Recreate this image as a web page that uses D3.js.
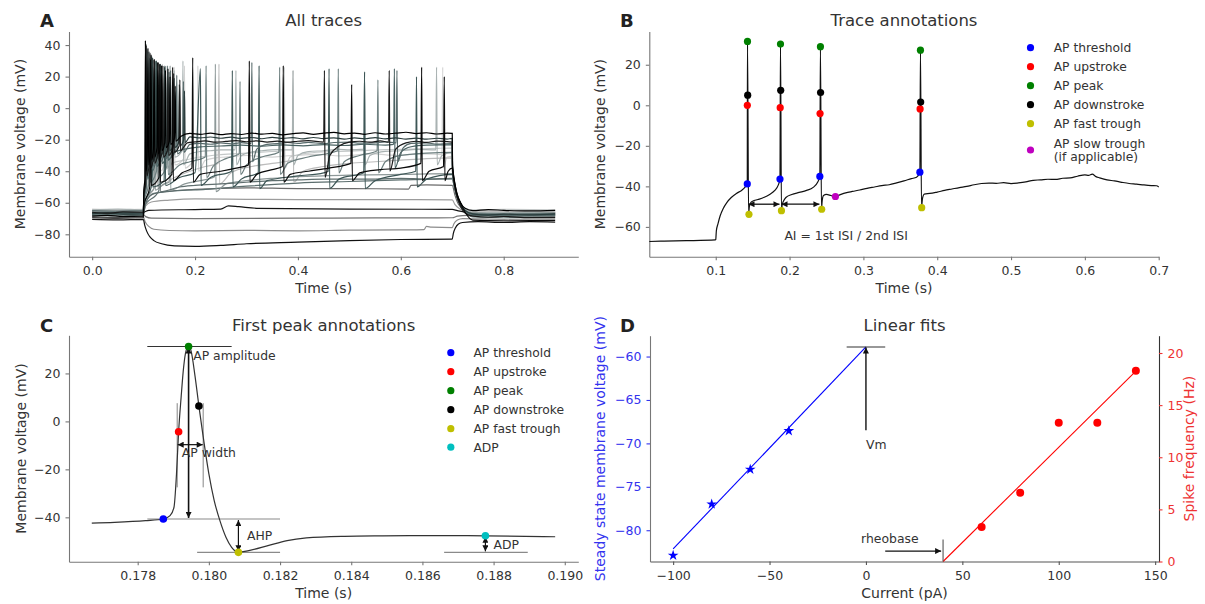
<!DOCTYPE html>
<html><head><meta charset="utf-8">
<script src="https://cdn.jsdelivr.net/npm/d3@7"></script>
<style>body{margin:0;background:#fff} svg text{font-family:"DejaVu Sans",sans-serif}</style>
</head><body>
<svg id="c" width="1205" height="604"></svg>
<script>
// ---------------- DATA ----------------
// Panel A: axis limits & ticks
const aXLim = [-0.045, 0.945], aYLim = [-94.2, 48.6];
const aXTicks = [0.0, 0.2, 0.4, 0.6, 0.8], aYTicks = [-80, -60, -40, -20, 0, 20, 40];
// Panel A subthreshold traces [t (s), V (mV)]
const aSub1 = [[0,-70.5],[0.05,-70.8],[0.0995,-70.5],[0.102,-74],[0.106,-78],[0.112,-81.5],[0.12,-84],[0.135,-86],[0.16,-87.3],[0.2,-87.6],[0.25,-87],[0.3,-86],[0.4,-85],[0.5,-84],[0.6,-83.3],[0.7,-83],[0.702,-79.5],[0.706,-76],[0.712,-73.5],[0.72,-72.5],[0.75,-72],[0.8,-72.5],[0.85,-72],[0.9,-72.3]];
const aSub2 = [[0,-69],[0.05,-69.4],[0.0995,-69],[0.103,-72],[0.11,-75],[0.12,-76.8],[0.15,-77.6],[0.2,-77.8],[0.3,-77.5],[0.4,-77.8],[0.5,-77.4],[0.6,-77.2],[0.645,-77],[0.65,-75],[0.66,-75.5],[0.7,-75.8],[0.703,-73.5],[0.71,-71],[0.72,-70],[0.8,-70.5],[0.9,-70.2]];
const aSub3 = [[0,-67.5],[0.05,-67.2],[0.0995,-67.5],[0.104,-68.8],[0.115,-69.8],[0.2,-70],[0.4,-69.8],[0.55,-69.6],[0.7,-69.5],[0.71,-68.5],[0.73,-68],[0.9,-68.4]];
const aSub4 = [[0,-66],[0.05,-66.3],[0.0995,-66],[0.11,-64.8],[0.2,-64.3],[0.25,-64],[0.265,-62],[0.285,-62.5],[0.32,-63.5],[0.5,-64],[0.7,-64.2],[0.71,-65],[0.73,-66],[0.9,-66.2]];
const aSub5 = [[0,-65],[0.05,-65.2],[0.0995,-65],[0.104,-62],[0.115,-59.5],[0.15,-58.3],[0.2,-57.5],[0.3,-57.8],[0.4,-58],[0.55,-58],[0.7,-58.2],[0.705,-61],[0.715,-64],[0.73,-65.5],[0.9,-65.8]];
const aSub6 = [[0,-67],[0.05,-66.8],[0.0995,-67],[0.104,-60],[0.115,-55],[0.14,-53],[0.2,-51.5],[0.3,-50.5],[0.4,-51],[0.5,-51],[0.615,-51.3],[0.62,-49],[0.65,-48.7],[0.7,-49],[0.705,-55],[0.712,-61],[0.725,-65],[0.74,-66.5],[0.9,-66.8]];
const aSub7 = [[0,-68],[0.05,-68.3],[0.0995,-68],[0.104,-60],[0.12,-54],[0.16,-52.5],[0.22,-51.5],[0.3,-49.5],[0.4,-47.5],[0.5,-46.5],[0.6,-45.5],[0.7,-44.8],[0.705,-52],[0.712,-59],[0.725,-64],[0.74,-67],[0.9,-67.5]];
// Panel A spiking traces: [t, V] or spike [t, peak, trough]
const aSpk1 = [[0,-68.5],[0.03,-68.0],[0.06,-68.7],[0.0995,-68.5],[0.1005,-52],[0.1025,-45],[0.1035,43,-40],[0.107,-32],[0.1085,38,-36],[0.113,-28],[0.1145,34,-33],[0.119,-26],[0.1205,31,-31],[0.126,-25],[0.1275,29,-29],[0.133,-24],[0.1345,27,-27],[0.141,-22],[0.1425,24,-25],[0.15,-21],[0.1515,20,-23],[0.16,-19],[0.1615,14,-21],[0.172,-18],[0.19,-16],[0.21,-16.6],[0.23,-15.9],[0.25,-16.8],[0.27,-16.1],[0.29,-16.7],[0.31,-15.8],[0.33,-16.5],[0.35,-16],[0.37,-16.9],[0.39,-16.2],[0.41,-15.7],[0.43,-16.6],[0.45,-15.9],[0.47,-15.4],[0.49,-16.3],[0.51,-15.8],[0.53,-16.6],[0.55,-15.6],[0.57,-16.4],[0.59,-15.9],[0.61,-15.3],[0.63,-16.1],[0.65,-15.6],[0.67,-16.4],[0.69,-15.8],[0.7,-16],[0.7005,-36],[0.704,-46],[0.709,-54],[0.716,-60],[0.725,-63.5],[0.74,-65],[0.77,-64.3],[0.8,-64.8],[0.85,-65.2],[0.9,-64.8]];
const aSpk2 = [[0,-67],[0.03,-66.4],[0.06,-67.2],[0.0995,-67],[0.1005,-54],[0.103,-47],[0.1042,41,-42],[0.109,-33],[0.1105,36,-37],[0.116,-30],[0.1175,32,-34],[0.123,-28],[0.1245,30,-32],[0.131,-27],[0.1325,28,-30],[0.139,-26],[0.1405,26,-29],[0.148,-25],[0.1495,23,-27],[0.158,-23],[0.1595,19,-25],[0.168,-22],[0.1695,15,-24],[0.178,-20],[0.1795,11,-22],[0.19,-18.2],[0.21,-18.9],[0.23,-18.3],[0.25,-19.1],[0.27,-18.4],[0.29,-19.2],[0.31,-18.6],[0.33,-19.4],[0.35,-18.5],[0.37,-19.2],[0.39,-18.7],[0.41,-19.5],[0.43,-18.6],[0.45,-19.3],[0.47,-18.8],[0.49,-19.6],[0.51,-18.9],[0.53,-19.4],[0.55,-18.7],[0.57,-19.5],[0.59,-18.9],[0.61,-19.6],[0.63,-19],[0.65,-19.7],[0.67,-19.1],[0.69,-19.6],[0.7,-19.2],[0.7005,-37],[0.704,-47],[0.709,-55],[0.716,-61],[0.725,-65],[0.74,-67],[0.77,-67.8],[0.8,-67.2],[0.85,-67.7],[0.9,-67]];
const aSpk3 = [[0,-66],[0.03,-66.6],[0.06,-65.8],[0.0995,-66],[0.1005,-55],[0.104,-48],[0.1052,40,-43],[0.111,-35],[0.1125,35,-38],[0.119,-32],[0.1205,31,-35],[0.127,-30],[0.1285,29,-33],[0.136,-28],[0.1375,27,-31],[0.146,-27],[0.1475,25,-30],[0.157,-25],[0.1585,22,-28],[0.169,-24],[0.1705,18,-27],[0.185,-22],[0.2,-21.4],[0.22,-20.8],[0.24,-21.6],[0.26,-21.1],[0.28,-20.6],[0.3,-21.3],[0.32,-20.7],[0.34,-21.5],[0.36,-20.9],[0.38,-21.6],[0.4,-21],[0.42,-20.6],[0.45,-21.5],[0.4515,24,-44],[0.462,-30],[0.48,-24],[0.5,-21.5],[0.52,-21],[0.54,-21.6],[0.56,-20.8],[0.576,-21.5],[0.5775,24,-40],[0.59,-26],[0.61,-22],[0.63,-21],[0.65,-21.7],[0.67,-20.9],[0.7,-21.5],[0.7005,-38],[0.704,-48],[0.709,-56],[0.716,-62],[0.725,-66.5],[0.74,-68.5],[0.77,-69.2],[0.8,-68.7],[0.85,-69.4],[0.9,-69.3]];
const aSpk4 = [[0,-65],[0.05,-65.3],[0.0995,-65],[0.1005,-57],[0.105,-49],[0.1062,38,-44],[0.113,-36],[0.1145,33,-39],[0.121,-33],[0.1225,30,-36],[0.13,-31],[0.1315,28,-34],[0.14,-29],[0.1415,26,-32],[0.151,-28],[0.1525,24,-31],[0.163,-26],[0.1645,21,-29],[0.176,-25],[0.1775,17,-28],[0.19,-23],[0.21,-22.3],[0.23,-22.9],[0.25,-22.1],[0.27,-22.7],[0.29,-21.9],[0.309,-22.5],[0.3105,29,-34],[0.32,-26],[0.34,-23],[0.36,-22.5],[0.38,-21.8],[0.4,-22.4],[0.42,-21.7],[0.45,-22.5],[0.47,-21.8],[0.5,-21.5],[0.52,-22.2],[0.55,-22],[0.57,-21.4],[0.591,-22],[0.5925,24,-34],[0.605,-25],[0.62,-22.4],[0.65,-22],[0.67,-22.8],[0.7,-22.5],[0.7005,-38],[0.704,-48],[0.709,-56],[0.716,-61.5],[0.725,-65.5],[0.74,-68],[0.8,-68.3],[0.9,-68]];
const aSpk5 = [[0,-64.5],[0.05,-64],[0.0995,-64.5],[0.1005,-58],[0.106,-50],[0.1075,36,-45],[0.115,-37],[0.1165,32,-40],[0.124,-34],[0.1255,29,-37],[0.134,-32],[0.1355,27,-35],[0.145,-30],[0.1465,25,-33],[0.158,-28],[0.1595,24,-31],[0.175,-27],[0.1765,30,-36],[0.19,-29],[0.21,-27.5],[0.23,-27],[0.25,-26.4],[0.278,-26.5],[0.2795,24,-36],[0.29,-30],[0.31,-27.8],[0.33,-27],[0.36,-26.3],[0.389,-26.5],[0.3905,24,-36],[0.4,-30],[0.42,-27.6],[0.45,-27],[0.48,-26.2],[0.5,-26.5],[0.528,-26],[0.5295,23,-36],[0.54,-30],[0.57,-27.4],[0.6,-27],[0.63,-26.2],[0.668,-26.5],[0.6695,26,-36],[0.68,-30],[0.7,-28],[0.7005,-40],[0.704,-49],[0.709,-56],[0.716,-61],[0.725,-64.5],[0.74,-66],[0.8,-66.3],[0.9,-66]];
const aSpk6 = [[0,-64],[0.05,-64.4],[0.0995,-64],[0.1005,-59],[0.108,-50],[0.1095,33,-46],[0.118,-39],[0.1195,30,-42],[0.129,-37],[0.1305,28,-40],[0.142,-35],[0.1435,27,-38],[0.158,-33],[0.1595,26,-36],[0.178,-32],[0.1795,27,-38],[0.2,-33],[0.205,-32],[0.2055,27,-40],[0.22,-33],[0.24,-31.5],[0.26,-31],[0.28,-30.4],[0.3,-30],[0.33,-30.8],[0.35,-31],[0.38,-30.2],[0.4,-30],[0.43,-29.3],[0.45,-29.5],[0.48,-30.3],[0.5,-30],[0.53,-29.2],[0.55,-29],[0.58,-29.8],[0.6,-30],[0.63,-29.1],[0.65,-29],[0.68,-29.5],[0.6815,26,-38],[0.69,-31],[0.7,-30.5],[0.7005,-41],[0.704,-49],[0.709,-56],[0.716,-61],[0.725,-64],[0.74,-65.5],[0.8,-65],[0.9,-65.3]];
const aSpk7 = [[0,-67.5],[0.05,-67.2],[0.0995,-67.5],[0.1005,-60],[0.11,-48],[0.1115,32,-47],[0.125,-40],[0.1265,29,-44],[0.145,-37],[0.1465,27,-42],[0.17,-36],[0.19,-34],[0.22,-31],[0.2215,27,-44],[0.235,-37],[0.26,-32],[0.286,-29],[0.2875,17,-42],[0.3,-36],[0.33,-31],[0.363,-28],[0.3645,26,-42],[0.38,-35],[0.42,-31],[0.477,-27],[0.4785,25,-41],[0.49,-34],[0.52,-30],[0.554,-27],[0.5555,18,-41],[0.57,-34],[0.6,-30],[0.65,-28.5],[0.7,-28],[0.7005,-40],[0.704,-49],[0.709,-56],[0.716,-61.5],[0.725,-66],[0.74,-69],[0.8,-69.5],[0.9,-69.2]];
const aSpk8 = [[0,-69.5],[0.05,-69.8],[0.0995,-69.5],[0.1005,-62],[0.112,-50],[0.1135,31,-49],[0.13,-44],[0.1315,28,-47],[0.155,-42],[0.1565,26,-46],[0.175,-41],[0.194,-38],[0.1955,32,-47],[0.21,-42],[0.25,-40],[0.28,-38],[0.304,-36],[0.3055,30,-47],[0.32,-42],[0.35,-39],[0.37,-37],[0.3715,27,-47],[0.385,-42],[0.42,-40],[0.46,-38],[0.503,-35],[0.5045,15,-46],[0.52,-41],[0.56,-39],[0.6,-38],[0.639,-35],[0.6405,26,-46],[0.655,-40],[0.683,-37],[0.6845,20,-46],[0.692,-40],[0.7,-38],[0.704,-46],[0.709,-54],[0.716,-60],[0.725,-66],[0.74,-71],[0.8,-71.5],[0.9,-71.2]];
const aSpk9 = [[0,-66.5],[0.05,-66.2],[0.0995,-66.5],[0.1005,-61],[0.115,-50],[0.1165,30,-50],[0.14,-46],[0.1415,27,-49],[0.17,-44],[0.2,-41],[0.2105,25,-49],[0.23,-44],[0.271,-40],[0.2725,24,-50],[0.29,-45],[0.323,-41],[0.3245,27,-51],[0.34,-46],[0.4,-43],[0.45,-41],[0.459,-40],[0.4605,25,-51],[0.48,-45],[0.528,-41],[0.5295,23,-51],[0.55,-46],[0.6,-42],[0.629,-40],[0.6305,20,-50],[0.65,-45],[0.7,-42],[0.704,-49],[0.709,-55],[0.716,-60],[0.725,-65],[0.74,-67.5],[0.8,-67.8],[0.9,-67.5]];
const aSpk10 = [[0,-65.5],[0.05,-65.8],[0.0995,-65.5],[0.1005,-62],[0.112,-54],[0.12,-51],[0.1215,29,-52],[0.14,-48],[0.15,-47],[0.1515,27,-52],[0.18,-48],[0.21,-46],[0.238,-43.5],[0.2395,28,-53],[0.26,-48],[0.3,-46],[0.35,-44.5],[0.4,-43.5],[0.5,-42.5],[0.6,-42],[0.7,-41.5],[0.704,-48],[0.709,-55],[0.716,-60],[0.725,-64.5],[0.74,-66.5],[0.8,-66.8],[0.9,-66.5]];
const aSpk11 = [[0,-64.8],[0.05,-65],[0.0995,-64.8],[0.1005,-61],[0.124,-48],[0.1255,28,-50],[0.16,-44],[0.19,-40],[0.22,-37],[0.245,-35],[0.2465,28,-48],[0.27,-41],[0.31,-37],[0.35,-35],[0.389,-33],[0.3905,24,-47],[0.41,-40],[0.45,-37],[0.5,-35],[0.55,-34],[0.6,-33],[0.65,-32],[0.7,-31.5],[0.7005,-42],[0.704,-50],[0.709,-56],[0.716,-61],[0.725,-64],[0.74,-65],[0.8,-65.5],[0.9,-65.2]];
const aSpk12 = [[0,-66],[0.05,-66.2],[0.0995,-66],[0.1005,-63],[0.13,-52],[0.1315,26,-53],[0.17,-50],[0.2,-49],[0.25,-48],[0.3,-47],[0.35,-46],[0.4,-45.5],[0.45,-45],[0.5,-45],[0.55,-45],[0.6,-44.5],[0.65,-45],[0.7,-44.5],[0.704,-50],[0.709,-56],[0.716,-61],[0.725,-65.5],[0.74,-68],[0.8,-68.5],[0.9,-68.3]];
const aSpk13 = [[0,-66.8],[0.05,-67],[0.0995,-66.8],[0.1005,-57],[0.105,-50],[0.1065,37,-45],[0.114,-37],[0.1155,33,-40],[0.123,-34],[0.1245,30,-37],[0.133,-32],[0.1345,27,-35],[0.145,-30],[0.1465,25,-33],[0.16,-28],[0.18,-26],[0.21,-24.5],[0.25,-24],[0.29,-23.4],[0.33,-24.1],[0.37,-23.3],[0.41,-23.9],[0.45,-23.1],[0.49,-23.7],[0.53,-22.9],[0.57,-23.5],[0.586,-23],[0.5875,25,-38],[0.6,-28],[0.62,-24.5],[0.65,-23.5],[0.7,-23.2],[0.7005,-38],[0.704,-48],[0.709,-56],[0.716,-61.5],[0.725,-65],[0.74,-67],[0.8,-67.2],[0.9,-67]];
const aSpk14 = [[0,-65.2],[0.05,-65],[0.0995,-65.2],[0.1005,-59],[0.109,-49],[0.1105,34,-46],[0.12,-39],[0.1215,30,-42],[0.135,-36],[0.1365,28,-40],[0.155,-35],[0.18,-33],[0.21,-31],[0.25,-29.5],[0.3,-28.5],[0.35,-27.5],[0.372,-27],[0.3735,26,-38],[0.385,-31],[0.42,-28.5],[0.47,-27.5],[0.52,-27],[0.57,-26.3],[0.62,-26],[0.67,-25.5],[0.7,-25.3],[0.7005,-40],[0.704,-49],[0.709,-56],[0.716,-61],[0.725,-63.5],[0.74,-64.5],[0.8,-64.2],[0.9,-64.5]];

// Panel B
const bXLim = [0.01, 0.7], bYLim = [-74.7, 36.4];
const bXTicks = [0.1, 0.2, 0.3, 0.4, 0.5, 0.6, 0.7], bYTicks = [-60, -40, -20, 0, 20];
const bTrace = [[0.010,-67.2],[0.03,-67.0],[0.06,-66.8],[0.0995,-66.4],[0.1,-66.3],[0.1008,-62.0],[0.103,-58.5],[0.106,-54.5],[0.110,-51],[0.115,-48],[0.121,-45.5],[0.128,-43.5],[0.135,-42],[0.140,-40.3],[0.1427,-38.8],[0.1430,31.5],[0.1445,-53.8],[0.1455,-50],[0.1468,-48.5],[0.150,-47.3],[0.157,-46.5],[0.165,-45.5],[0.173,-44],[0.180,-42],[0.1845,-39.5],[0.1870,-36.4],[0.1877,30.2],[0.1890,-52],[0.1900,-49],[0.1915,-47.5],[0.195,-45.5],[0.203,-44],[0.213,-43],[0.223,-42],[0.232,-40.5],[0.238,-38],[0.2410,-35.1],[0.2418,28.9],[0.2432,-51.3],[0.2442,-47],[0.2460,-44.5],[0.250,-44],[0.256,-44.5],[0.2621,-45],[0.268,-44.2],[0.276,-43.2],[0.285,-42.5],[0.295,-41.8],[0.305,-41],[0.315,-40.3],[0.325,-39.6],[0.335,-39.2],[0.345,-38.3],[0.355,-37.3],[0.365,-36.2],[0.372,-35.5],[0.3765,-33],[0.3773,27.2],[0.3787,-50.5],[0.3800,-46],[0.3825,-43.8],[0.390,-43.5],[0.400,-42.8],[0.410,-42],[0.420,-41.3],[0.430,-40.6],[0.440,-40],[0.450,-39.2],[0.460,-38.6],[0.470,-38.4],[0.480,-38.5],[0.490,-38.2],[0.500,-38.6],[0.510,-38.3],[0.520,-37.8],[0.530,-37.0],[0.540,-36.8],[0.550,-36.5],[0.560,-36.6],[0.570,-36.0],[0.580,-35.8],[0.590,-35.0],[0.600,-34.3],[0.605,-34.6],[0.610,-34.0],[0.615,-35.2],[0.620,-35.8],[0.630,-36.8],[0.640,-37.3],[0.650,-38.0],[0.660,-38.6],[0.670,-38.9],[0.680,-39.3],[0.690,-39.6],[0.697,-39.7],[0.700,-40.3]];
const bThreshold = [[0.1427,-38.8],[0.1870,-36.4],[0.2410,-35.1],[0.3765,-33]];
const bUpstroke = [[0.1428,0.0],[0.1873,-1.2],[0.2413,-4.1],[0.3768,-1.8]];
const bPeak = [[0.1430,31.5],[0.1877,30.2],[0.2418,28.9],[0.3773,27.2]];
const bDownstroke = [[0.1433,5.0],[0.1880,7.4],[0.2420,6.3],[0.3776,1.6]];
const bFastTrough = [[0.1450,-53.8],[0.1890,-52],[0.2435,-51.3],[0.3790,-50.5]];
const bSlowTrough = [[0.2621,-45]];
const bIsi = [[0.1430,0.1877],[0.1877,0.2418]], bIsiLevel = -48.8;
const bLegendLabels = ["AP threshold","AP upstroke","AP peak","AP downstroke","AP fast trough","AP slow trough|(if applicable)"];

// Panel C
const cXLim = [0.17607, 0.19038], cYLim = [-58.5, 35.9];
const cXTicks = [0.178, 0.180, 0.182, 0.184, 0.186, 0.188, 0.190], cYTicks = [-40, -20, 0, 20];
const cTrace = [[0.17671,-42.4],[0.17735,-42.1],[0.17822,-41.4],[0.17872,-40.7],[0.17891,-39.3],[0.17902,-35.8],[0.17909,-22],[0.17915,-4.3],[0.17922,10],[0.17929,22.5],[0.17936,29.5],[0.17943,31.25],[0.1795,29.4],[0.17961,19],[0.17972,6.4],[0.17983,-5.3],[0.1800,-21.9],[0.18015,-33],[0.18031,-41.4],[0.18048,-48.3],[0.18064,-52.5],[0.18083,-54.6],[0.18112,-53.9],[0.18166,-51.8],[0.1822,-49.7],[0.18274,-48.6],[0.18381,-47.9],[0.18489,-47.7],[0.18597,-47.6],[0.18777,-47.7],[0.18973,-48.1]];
const cPoints = [[0.17872,-40.7],[0.17915,-4.3],[0.17943,31.25],[0.17972,6.4],[0.18083,-54.6],[0.18777,-47.7]];
const cLegendLabels = ["AP threshold","AP upstroke","AP peak","AP downstroke","AP fast trough","ADP"];
const cPeakLine = [0.17827, 0.18064, 31.25];
const cThreshLine = [0.17827, 0.1820, -40.7];
const cTroughLine = [0.17967, 0.1820, -54.6];
const cAdpLine = [0.18661, 0.18896, -54.6];
const cWidth = [0.17911, 0.17984, -9.7, 7.6, -27.5];

// Panel D
const dXLim = [-112, 152], dYLimL = [-83.6, -57.6], dYLimR = [0, 21.66];
const dXTicks = [-100, -50, 0, 50, 100, 150], dYTicksL = [-80, -75, -70, -65, -60], dYTicksR = [0, 5, 10, 15, 20];
const dStarCurrent = [-100, -80, -60, -40], dStarVoltage = [-82.9, -77.0, -73.0, -68.55];
const dVFit = [[-100, -82.15], [0, -58.9]];
const dDotCurrent = [60, 80, 100, 120, 140], dDotFreq = [3.3, 6.6, 13.3, 13.3, 18.3];
const dFFit = [[40, 0], [140, 18.27]];
const dVm = -58.9, dVmLine = [-10, 10], dVmArrowFrom = -68.5;
const dRheobase = 40, dRheoArrow = [10, 39, 1.0], dRheoTick = [0, 2.1];

// ---------------- DRAWING ----------------
const svg = d3.select('#c');
svg.append('rect').attr('width',1205).attr('height',604).attr('fill','#fff');
const defs = svg.append('defs');
defs.append('marker').attr('id','ah').attr('viewBox','0 0 10 10').attr('refX',10).attr('refY',5)
  .attr('markerWidth',7).attr('markerHeight',6).attr('markerUnits','userSpaceOnUse')
  .attr('orient','auto-start-reverse').append('path').attr('d','M0,0L10,5L0,10z').attr('fill','#111');

const TXT = '#333', SPINE = '#777';
const FT = '16.5px', FL = '14px', FLEG = '12.3px', FANN = '12.4px';
const boxA={l:69,r:578.3,t:31.5,b:256.7}, boxB={l:649.3,r:1158.7,t:31.5,b:256.7};
const boxC={l:69,r:578.3,t:335.3,b:561.7}, boxD={l:650,r:1159,t:335.7,b:561.5};

function styleAxis(g, spine, tcol){
  g.attr('font-size','12.5px').attr('font-family','DejaVu Sans');
  g.select('.domain').attr('stroke',spine).attr('stroke-width',1.1);
  g.selectAll('.tick line').attr('stroke',spine).attr('stroke-width',1.1);
  g.selectAll('.tick text').attr('fill',tcol);
}
function axes(box, xl, yl, xt, yt, xf, yf){
  const x = d3.scaleLinear().domain(xl).range([box.l, box.r]);
  const y = d3.scaleLinear().domain(yl).range([box.b, box.t]);
  const gx = svg.append('g').attr('transform',`translate(0,${box.b})`)
    .call(d3.axisBottom(x).tickValues(xt).tickFormat(d3.format(xf)).tickSize(3.5).tickSizeOuter(0).tickPadding(6));
  styleAxis(gx, SPINE, TXT);
  const gy = svg.append('g').attr('transform',`translate(${box.l},0)`)
    .call(d3.axisLeft(y).tickValues(yt).tickFormat(d3.format(yf)).tickSize(3.5).tickSizeOuter(0).tickPadding(5));
  styleAxis(gy, SPINE, TXT);
  return {x, y, gy};
}
function label(x, y, txt, opts={}){
  const t = svg.append('text').attr('x',x).attr('y',y).text(txt)
    .attr('font-size', opts.size||FL).attr('fill', opts.color||TXT)
    .attr('text-anchor', opts.anchor||'middle');
  if(opts.weight) t.attr('font-weight', opts.weight);
  if(opts.rot) t.attr('transform',`rotate(${opts.rot},${x},${y})`);
  return t;
}
function expand(pts){
  const out=[];
  pts.forEach(p=>{ if(p.length===3){ out.push([p[0],p[1]]); out.push([p[0]+0.0012,p[2]]); } else out.push(p); });
  return out;
}
function arrow(x1,y1,x2,y2,both,w){
  const l = svg.append('line').attr('x1',x1).attr('y1',y1).attr('x2',x2).attr('y2',y2)
    .attr('stroke','#111').attr('stroke-width',w||1.2).attr('marker-end','url(#ah)');
  if(both) l.attr('marker-start','url(#ah)');
}
function hline(x1,x2,y,col,w){ svg.append('line').attr('x1',x1).attr('x2',x2).attr('y1',y).attr('y2',y).attr('stroke',col).attr('stroke-width',w||1.1); }
function vline(x,y1,y2,col,w){ svg.append('line').attr('x1',x).attr('x2',x).attr('y1',y1).attr('y2',y2).attr('stroke',col).attr('stroke-width',w||1.1); }

// ---- Panel A ----
{
  const {x,y} = axes(boxA, aXLim, aYLim, aXTicks, aYTicks, '.1f', 'd');
  const line = d3.line().x(d=>x(d[0])).y(d=>y(d[1])).curve(d3.curveMonotoneX);
  const subs = [aSub6, aSub5, aSub3, aSub2, aSub7, aSub4, aSub1];
  const subCols = ['#6a6a6a','#9c9c9c','#747474','#8c8c8c','#5c6e6e','#151515','#111111'];
  const spks = [aSpk6, aSpk14, aSpk11, aSpk5, aSpk10, aSpk12, aSpk7, aSpk13, aSpk9, aSpk4, aSpk2, aSpk3, aSpk8, aSpk1];
  const spkCols = ['#d2d2d2','#c4c8c8','#bcbcbc','#a9b2b2','#8d9898','#606f6f','#6d7f7f','#4a6262','#3d5656','#56696a','#2b3d3d','#1a1a1a','#0a0a0a','#000000'];
  subs.forEach((s,i)=> svg.append('path').attr('d',line(s)).attr('fill','none').attr('stroke',subCols[i]).attr('stroke-width',1.2));
  spks.forEach((s,i)=> svg.append('path').attr('d',line(expand(s))).attr('fill','none').attr('stroke',spkCols[i]).attr('stroke-width',1.2));
  label((boxA.l+boxA.r)/2, 26, 'All traces', {size:FT});
  label((boxA.l+boxA.r)/2, 293, 'Time (s)');
  label(25.5, (boxA.t+boxA.b)/2, 'Membrane voltage (mV)', {rot:-90});
  label(40, 27, 'A', {size:'18px', weight:'bold', anchor:'start', color:'#222'});
}

// ---- Panel B ----
{
  const {x,y} = axes(boxB, bXLim, bYLim, bXTicks, bYTicks, '.1f', 'd');
  const line = d3.line().x(d=>x(d[0])).y(d=>y(d[1])).curve(d3.curveMonotoneX);
  svg.append('path').attr('d',line(bTrace)).attr('fill','none').attr('stroke','#111').attr('stroke-width',1.2);
  bIsi.forEach(p=> arrow(x(p[0])+1, y(bIsiLevel), x(p[1])-1, y(bIsiLevel), true, 1.3));
  const sets = [bThreshold,bUpstroke,bPeak,bDownstroke,bFastTrough,bSlowTrough];
  const cols = ['#0000ff','#ff0000','#008000','#000000','#bfbf00','#bf00bf'];
  sets.forEach((s,i)=> svg.append('g').selectAll('circle').data(s).join('circle')
    .attr('cx',d=>x(d[0])).attr('cy',d=>y(d[1])).attr('r',3.6).attr('fill',cols[i]));
  label(x(0.193), y(-64)+4.5, 'AI = 1st ISI / 2nd ISI', {size:FANN, anchor:'start'});
  const rows = [47.7,66.7,85.7,104.7,123.7,150];
  bLegendLabels.forEach((lab,i)=>{
    svg.append('circle').attr('cx',1030.5).attr('cy',rows[i]).attr('r',3.6).attr('fill',cols[i]);
    const parts = lab.split('|');
    if(parts.length===1) label(1053.7, rows[i]+4.3, lab, {size:FLEG, anchor:'start'});
    else { label(1053.7, rows[i]-6.7+4.3, parts[0], {size:FLEG, anchor:'start'}); label(1053.7, rows[i]+6.7+4.3, parts[1], {size:FLEG, anchor:'start'}); }
  });
  label((boxB.l+boxB.r)/2, 26, 'Trace annotations', {size:FT});
  label((boxB.l+boxB.r)/2, 293, 'Time (s)');
  label(605, (boxB.t+boxB.b)/2, 'Membrane voltage (mV)', {rot:-90});
  label(620, 27, 'B', {size:'18px', weight:'bold', anchor:'start', color:'#222'});
}

// ---- Panel C ----
{
  const {x,y} = axes(boxC, cXLim, cYLim, cXTicks, cYTicks, '.3f', 'd');
  const line = d3.line().x(d=>x(d[0])).y(d=>y(d[1])).curve(d3.curveMonotoneX);
  hline(x(cPeakLine[0]), x(cPeakLine[1]), y(cPeakLine[2]), '#333', 1.1);
  hline(x(cThreshLine[0]), x(cThreshLine[1]), y(cThreshLine[2]), '#8a8a8a', 1.2);
  hline(x(cTroughLine[0]), x(cTroughLine[1]), y(cTroughLine[2]), '#8a8a8a', 1.2);
  hline(x(cAdpLine[0]), x(cAdpLine[1]), y(cAdpLine[2]), '#8a8a8a', 1.2);
  vline(x(cWidth[0]), y(cWidth[3]), y(cWidth[4]), '#777', 0.9);
  vline(x(cWidth[1]), y(cWidth[3]), y(cWidth[4]), '#777', 0.9);
  svg.append('path').attr('d',line(cTrace)).attr('fill','none').attr('stroke','#333').attr('stroke-width',1.2);
  arrow(x(cPoints[2][0]), y(cPeakLine[2])+1, x(cPoints[2][0]), y(cThreshLine[2])-1, true, 1.6);
  arrow(x(cWidth[0])+0.5, y(cWidth[2]), x(cWidth[1])-0.5, y(cWidth[2]), true, 1.2);
  arrow(x(cPoints[4][0]), y(cThreshLine[2])+1, x(cPoints[4][0]), y(cTroughLine[2])-1, true, 1.2);
  arrow(x(cPoints[5][0]), y(cPoints[5][1])+1, x(cPoints[5][0]), y(cAdpLine[2])-1, true, 1.2);
  const cols = ['#0000ff','#ff0000','#008000','#000000','#bfbf00','#00bfbf'];
  svg.append('g').selectAll('circle').data(cPoints).join('circle')
    .attr('cx',d=>x(d[0])).attr('cy',d=>y(d[1])).attr('r',3.8).attr('fill',(d,i)=>cols[i]);
  label(x(0.17956), y(27.4)+4.3, 'AP amplitude', {size:FANN, anchor:'start'});
  label(x(0.17924), y(-13.2)+4.3, 'AP width', {size:FANN, anchor:'start'});
  label(x(0.18107), y(-47.6)+4.3, 'AHP', {size:FANN, anchor:'start'});
  label(x(0.18800), y(-51.5)+4.3, 'ADP', {size:FANN, anchor:'start'});
  const rows = [352.7,371.7,390.7,409.7,428.7,447.2];
  cLegendLabels.forEach((lab,i)=>{
    svg.append('circle').attr('cx',450.8).attr('cy',rows[i]).attr('r',3.6).attr('fill',cols[i]);
    label(473.4, rows[i]+4.3, lab, {size:FLEG, anchor:'start'});
  });
  label((boxC.l+boxC.r)/2, 331, 'First peak annotations', {size:FT});
  label((boxC.l+boxC.r)/2, 598, 'Time (s)');
  label(25.5, (boxC.t+boxC.b)/2, 'Membrane voltage (mV)', {rot:-90});
  label(40, 332, 'C', {size:'18px', weight:'bold', anchor:'start', color:'#222'});
}

// ---- Panel D ----
{
  const x = d3.scaleLinear().domain(dXLim).range([boxD.l, boxD.r]);
  const yl = d3.scaleLinear().domain(dYLimL).range([boxD.b, boxD.t]);
  const yr = d3.scaleLinear().domain(dYLimR).range([boxD.b, boxD.t]);
  const gx = svg.append('g').attr('transform',`translate(0,${boxD.b})`)
    .call(d3.axisBottom(x).tickValues(dXTicks).tickFormat(d3.format('d')).tickSize(3.5).tickSizeOuter(0).tickPadding(6));
  styleAxis(gx, '#555', TXT);
  const gl = svg.append('g').attr('transform',`translate(${boxD.l},0)`)
    .call(d3.axisLeft(yl).tickValues(dYTicksL).tickFormat(d3.format('d')).tickSize(3.5).tickSizeOuter(0).tickPadding(5));
  styleAxis(gl, SPINE, '#3333ee');
  gl.selectAll('.tick line').attr('stroke','#3333ee');
  const gr = svg.append('g').attr('transform',`translate(${boxD.r},0)`)
    .call(d3.axisRight(yr).tickValues(dYTicksR).tickFormat(d3.format('d')).tickSize(3.5).tickSizeOuter(0).tickPadding(5));
  styleAxis(gr, '#333', '#ee3333');
  gr.selectAll('.tick line').attr('stroke','#ee3333');

  const lineL = d3.line().x(d=>x(d[0])).y(d=>yl(d[1]));
  const lineR = d3.line().x(d=>x(d[0])).y(d=>yr(d[1]));
  svg.append('path').attr('d',lineL(dVFit)).attr('stroke','#0000ff').attr('stroke-width',1.1).attr('fill','none');
  svg.append('path').attr('d',lineR(dFFit)).attr('stroke','#ff0000').attr('stroke-width',1.1).attr('fill','none');
  const star = d3.symbol().type(d3.symbolStar).size(36);
  svg.append('g').selectAll('path').data(dStarCurrent).join('path')
    .attr('d',star).attr('transform',(d,i)=>`translate(${x(d)},${yl(dStarVoltage[i])})`).attr('fill','#0000ff');
  svg.append('g').selectAll('circle').data(dDotCurrent).join('circle')
    .attr('cx',d=>x(d)).attr('cy',(d,i)=>yr(dDotFreq[i])).attr('r',4).attr('fill','#ff0000');
  hline(x(dVmLine[0]), x(dVmLine[1]), yl(dVm), '#333', 1.1);
  arrow(x(0), yl(dVmArrowFrom), x(0), yl(dVm)+0.5, false, 1.4);
  label(x(0), yl(-70.1)+4.5, 'Vm', {size:FANN, anchor:'start'});
  vline(x(dRheobase), yr(dRheoTick[0]), yr(dRheoTick[1]), '#555', 1.1);
  arrow(x(dRheoArrow[0]), yr(dRheoArrow[2]), x(dRheoArrow[1]), yr(dRheoArrow[2]), false, 1.3);
  label(x(-2.5), yr(2.16)+4.5, 'rheobase', {size:FANN, anchor:'start'});

  label((boxD.l+boxD.r)/2, 331, 'Linear fits', {size:FT});
  label((boxD.l+boxD.r)/2, 598, 'Current (pA)');
  label(605, (boxD.t+boxD.b)/2, 'Steady state membrane voltage (mV)', {rot:-90, color:'#3333ee'});
  label(1194, (boxD.t+boxD.b)/2, 'Spike frequency (Hz)', {rot:-90, color:'#ee3333'});
  label(620, 332, 'D', {size:'18px', weight:'bold', anchor:'start', color:'#222'});
}
</script>
</body></html>
